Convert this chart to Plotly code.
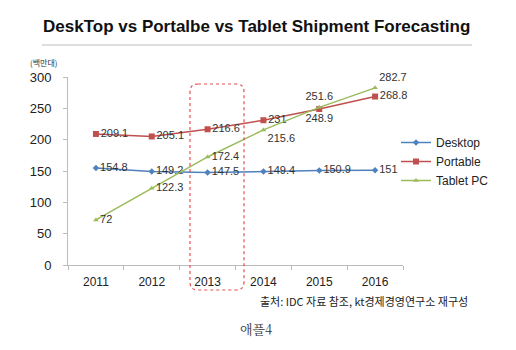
import plotly.graph_objects as go

years = ["2011", "2012", "2013", "2014", "2015", "2016"]
desktop = [154.8, 149.2, 147.5, 149.4, 150.9, 151]
portable = [209.1, 205.1, 216.6, 231, 248.9, 268.8]
tablet = [72, 122.3, 172.4, 215.6, 251.6, 282.7]

L, R, T, B = 68, 113, 77, 85
W, H = 516, 350
pw, ph = W - L - R, H - T - B

def px(x):
    return (x - L) / pw

def py(y):
    return (H - B - y) / ph

fig = go.Figure()
lab_font = dict(family="Arial", size=11, color="#333333")

fig.add_trace(go.Scatter(
    x=years, y=desktop, name="Desktop", mode="lines+markers+text",
    line=dict(color="#4F81BD", width=1.5),
    marker=dict(symbol="diamond", size=5, color="#4F81BD"),
    text=[str(v) for v in desktop], textposition="middle right",
    textfont=lab_font, cliponaxis=False))
fig.add_trace(go.Scatter(
    x=years, y=portable, name="Portable", mode="lines+markers+text",
    line=dict(color="#C0504D", width=1.5),
    marker=dict(symbol="square", size=6, color="#C0504D"),
    text=[str(v) for v in portable],
    textposition=["middle right", "middle right", "middle right", "middle right", "bottom center", "middle right"],
    textfont=lab_font, cliponaxis=False))
fig.add_trace(go.Scatter(
    x=years, y=tablet, name="Tablet PC", mode="lines+markers+text",
    line=dict(color="#9BBB59", width=1.5),
    marker=dict(symbol="triangle-up", size=5, color="#9BBB59"),
    text=[str(v) for v in tablet],
    textposition=["middle right", "middle right", "middle right", "bottom right", "top center", "top right"],
    textfont=lab_font, cliponaxis=False))

# rounded dotted rectangle highlighting 2013
x0, x1, y0, y1, r = 190, 244, 84, 290, 8
path = (f"M {px(x0 + r)},{py(y0)} L {px(x1 - r)},{py(y0)} "
        f"Q {px(x1)},{py(y0)} {px(x1)},{py(y0 + r)} L {px(x1)},{py(y1 - r)} "
        f"Q {px(x1)},{py(y1)} {px(x1 - r)},{py(y1)} L {px(x0 + r)},{py(y1)} "
        f"Q {px(x0)},{py(y1)} {px(x0)},{py(y1 - r)} L {px(x0)},{py(y0 + r)} "
        f"Q {px(x0)},{py(y0)} {px(x0 + r)},{py(y0)} Z")
fig.add_shape(type="path", path=path, xref="paper", yref="paper",
              line=dict(color="#E05050", width=1.2, dash="dot"))
# title underline
fig.add_shape(type="line", xref="paper", yref="paper",
              x0=px(42), x1=px(472), y0=py(45), y1=py(45),
              line=dict(color="#BBBBBB", width=1))

fig.add_annotation(text="<b>DeskTop vs Portalbe vs Tablet Shipment Forecasting</b>",
                   xref="paper", yref="paper", x=px(256), y=py(26),
                   xanchor="center", yanchor="middle",
                   showarrow=False, font=dict(family="Arial", size=17, color="#111111"))
fig.add_annotation(text="(백만대)", xref="paper", yref="paper", x=px(44), y=py(63),
                   xanchor="center", yanchor="middle",
                   showarrow=False, font=dict(family="Noto Sans CJK KR", size=8, color="#333333"))
fig.add_annotation(text="출처: IDC 자료 참조, kt경제경영연구소 재구성", xref="paper", yref="paper",
                   x=px(470), y=py(301), xanchor="right", yanchor="middle", showarrow=False,
                   font=dict(family="Noto Sans CJK KR", size=11, color="#222222"))
fig.add_annotation(text="애플4", xref="paper", yref="paper", x=px(256), y=py(328),
                   xanchor="center", yanchor="middle",
                   showarrow=False, font=dict(family="Noto Serif CJK KR, serif", size=13, color="#333333"))

fig.update_layout(
    width=W, height=H, margin=dict(l=L, r=R, t=T, b=B),
    paper_bgcolor="white", plot_bgcolor="white",
    showlegend=True,
    legend=dict(x=px(396), y=py(128), xanchor="left", yanchor="top",
                font=dict(family="Arial", size=12, color="#222222"),
                tracegroupgap=0, itemwidth=30, bgcolor="rgba(0,0,0,0)"),
    xaxis=dict(type="category", tickson="boundaries", showgrid=False,
               showline=True, linecolor="#BBBBBB", ticks="outside", tickcolor="#BBBBBB",
               ticklen=4, ticklabelstandoff=6,
               tickfont=dict(family="Arial", size=12, color="#222222"),
               range=[-0.5, 5.5]),
    yaxis=dict(range=[0, 300], dtick=50, showgrid=False, zeroline=False,
               showline=True, linecolor="#BBBBBB", ticks="outside", tickcolor="#BBBBBB",
               ticklen=4, ticklabelstandoff=9,
               tickfont=dict(family="Arial", size=13, color="#222222")),
)

fig.write_html("out.html")
